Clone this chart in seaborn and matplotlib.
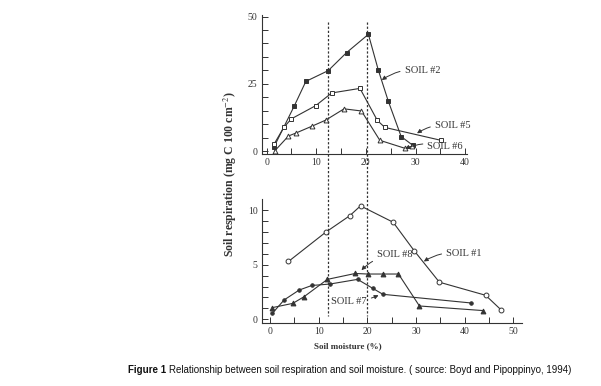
import numpy as np
import pandas as pd
import seaborn as sns
import matplotlib.pyplot as plt
from matplotlib import transforms
from matplotlib.lines import Line2D

# Top panel: soils 2, 5, 6
soil2_x = [1.5, 5.6, 7.9, 12.4, 16.1, 20.5, 22.5, 24.5, 27.1, 29.4]
soil2_y = [1.6, 16.9, 25.9, 29.9, 36.6, 43.4, 30.1, 18.6, 5.4, 2.2]
soil5_x = [1.5, 3.5, 5.0, 9.9, 13.1, 18.8, 22.3, 23.8, 35.1]
soil5_y = [2.6, 8.9, 12.0, 16.9, 21.6, 23.3, 11.4, 8.8, 4.0]
soil6_x = [1.6, 4.4, 5.9, 9.2, 11.9, 15.6, 19.1, 22.8, 27.9, 29.3]
soil6_y = [0.0, 5.6, 6.7, 9.3, 11.5, 15.7, 14.9, 4.0, 1.0, 1.8]

# Bottom panel: soils 1, 8, 7
soil1_x = [3.8, 11.5, 16.4, 18.6, 25.3, 29.6, 34.8, 44.3, 47.5]
soil1_y = [5.3, 8.0, 9.5, 10.4, 8.9, 6.3, 3.4, 2.2, 0.85]
soil8_x = [0.5, 4.7, 7.0, 11.8, 17.5, 20.1, 23.2, 26.4, 30.7, 43.7]
soil8_y = [1.07, 1.46, 2.07, 3.66, 4.2, 4.15, 4.15, 4.15, 1.22, 0.8]
soil7_x = [0.5, 2.9, 6.0, 8.6, 12.3, 18.0, 21.1, 23.2, 41.2]
soil7_y = [0.55, 1.77, 2.68, 3.1, 3.23, 3.66, 2.84, 2.29, 1.5]

# Moisture thresholds marked by dotted lines
thresholds = [12, 20]

INK = '#333333'
SERIF = ['Liberation Serif', 'DejaVu Serif']

sns.set_style('ticks')
plt.rcParams['font.family'] = SERIF
plt.rcParams['mathtext.fontset'] = 'stix'

fig = plt.figure(figsize=(6.01, 3.86), dpi=100)
ax1 = fig.add_axes([0.4354, 0.6003, 0.3411, 0.3609])
ax2 = fig.add_axes([0.4354, 0.1624, 0.4326, 0.3212])


def draw(ax, x, y, marker, face, size):
    sns.lineplot(x=x, y=y, ax=ax, sort=False, color=INK, lw=0.8,
                 marker=marker, markerfacecolor=face, markeredgecolor=INK,
                 markeredgewidth=0.7, markersize=size)


draw(ax1, soil2_x, soil2_y, 's', INK, 3)
draw(ax1, soil5_x, soil5_y, 's', 'white', 3.5)
draw(ax1, soil6_x, soil6_y, '^', 'white', 3.5)

draw(ax2, soil1_x, soil1_y, 'o', 'white', 3.5)
draw(ax2, soil8_x, soil8_y, '^', INK, 3.5)
draw(ax2, soil7_x, soil7_y, 'o', INK, 2.5)

ax1.set_xlim(-1.0, 40.3)
ax1.set_ylim(-1.2, 50.6)
ax1.set_xticks([0, 10, 20, 30, 40])
ax1.set_xticks(np.arange(0, 41, 5), minor=True)
ax1.set_yticks([0, 25, 50])
ax1.set_yticks(np.arange(0, 51, 5), minor=True)

ax2.set_xlim(-1.7, 51.7)
ax2.set_ylim(-0.37, 11.0)
ax2.set_xticks([0, 10, 20, 30, 40, 50])
ax2.set_xticks(np.arange(0, 51, 5), minor=True)
ax2.set_yticks([0, 5, 10])
ax2.set_yticks(np.arange(0, 11, 1), minor=True)

for ax in (ax1, ax2):
    sns.despine(ax=ax)
    ax.spines['left'].set_color(INK)
    ax.spines['bottom'].set_color(INK)
    ax.spines['left'].set_linewidth(0.8)
    ax.spines['bottom'].set_linewidth(0.8)
    ax.tick_params(which='both', direction='in', color=INK, labelcolor=INK,
                   labelsize=7, width=0.7, pad=3)
    ax.tick_params(which='major', length=4)
    ax.tick_params(which='minor', length=4)
    ax.set_xlabel('')
    ax.set_ylabel('')
    ax.patch.set_alpha(0)

# dotted threshold lines spanning both panels
blend = transforms.blended_transform_factory(ax2.transData, fig.transFigure)
for t in thresholds:
    fig.add_artist(Line2D([t, t], [0.943, 0.181], transform=blend,
                          color=INK, lw=0.9, ls=(0, (1.8, 1.5))))

arrow = dict(arrowstyle='-|>', color=INK, lw=0.7, mutation_scale=6,
             connectionstyle='arc3,rad=0.2', shrinkA=1, shrinkB=0)
lab = dict(fontsize=7.5, color=INK, va='center', ha='left')

ax1.annotate('SOIL #2', xy=(23.2, 26.4), xytext=(27.8, 30.0), arrowprops=arrow, **lab)
ax1.annotate('SOIL #5', xy=(30.3, 6.6), xytext=(33.9, 9.4), arrowprops=arrow, **lab)
ax1.annotate('SOIL #6', xy=(27.9, 0.8), xytext=(32.4, 1.6), arrowprops=arrow, **lab)

ax2.annotate('SOIL #8', xy=(18.8, 4.5), xytext=(22.0, 5.9), arrowprops=arrow, **lab)
ax2.annotate('SOIL #1', xy=(31.6, 5.3), xytext=(36.2, 6.0), arrowprops=arrow, **lab)
ax2.annotate('SOIL #7', xy=(22.3, 2.2), xytext=(12.6, 1.6),
             arrowprops=dict(arrow, connectionstyle='arc3,rad=0.1'), **lab)

fig.text(0.384, 0.55, 'Soil respiration (mg C 100 cm$^{-2}$)', rotation=90,
         ha='center', va='center', fontsize=8.5, color=INK, fontweight='semibold')
fig.text(0.578, 0.104, 'Soil moisture (%)', ha='center', va='center',
         fontsize=6.5, color=INK, fontweight='bold')

# caption: bold "Figure 1" followed by regular text, sized to fit its span
SANS = ['Liberation Sans', 'DejaVu Sans']
CAP_LEFT, CAP_RIGHT, CAP_Y = 0.213, 0.950, 0.041
caption = 'Relationship between soil respiration and soil moisture. ( source: Boyd and Pipoppinyo, 1994)'
cap1 = fig.text(CAP_LEFT, CAP_Y, 'Figure 1', ha='left', va='center',
                fontsize=8, fontweight='bold', family=SANS, color='#111111')
cap2 = fig.text(0, CAP_Y, caption, ha='left', va='center',
                fontsize=8, family=SANS, color='#111111')
inv = fig.transFigure.inverted()
for _ in range(3):
    fig.canvas.draw()
    b1 = cap1.get_window_extent().transformed(inv)
    cap2.set_x(b1.x1 + 0.004)
    fig.canvas.draw()
    b2 = cap2.get_window_extent().transformed(inv)
    scale = (CAP_RIGHT - CAP_LEFT) / (b2.x1 - CAP_LEFT)
    size = cap1.get_fontsize() * scale
    cap1.set_fontsize(size)
    cap2.set_fontsize(size)
fig.canvas.draw()
b1 = cap1.get_window_extent().transformed(inv)
cap2.set_x(b1.x1 + 0.004)

fig.savefig('out.png', dpi=100)
